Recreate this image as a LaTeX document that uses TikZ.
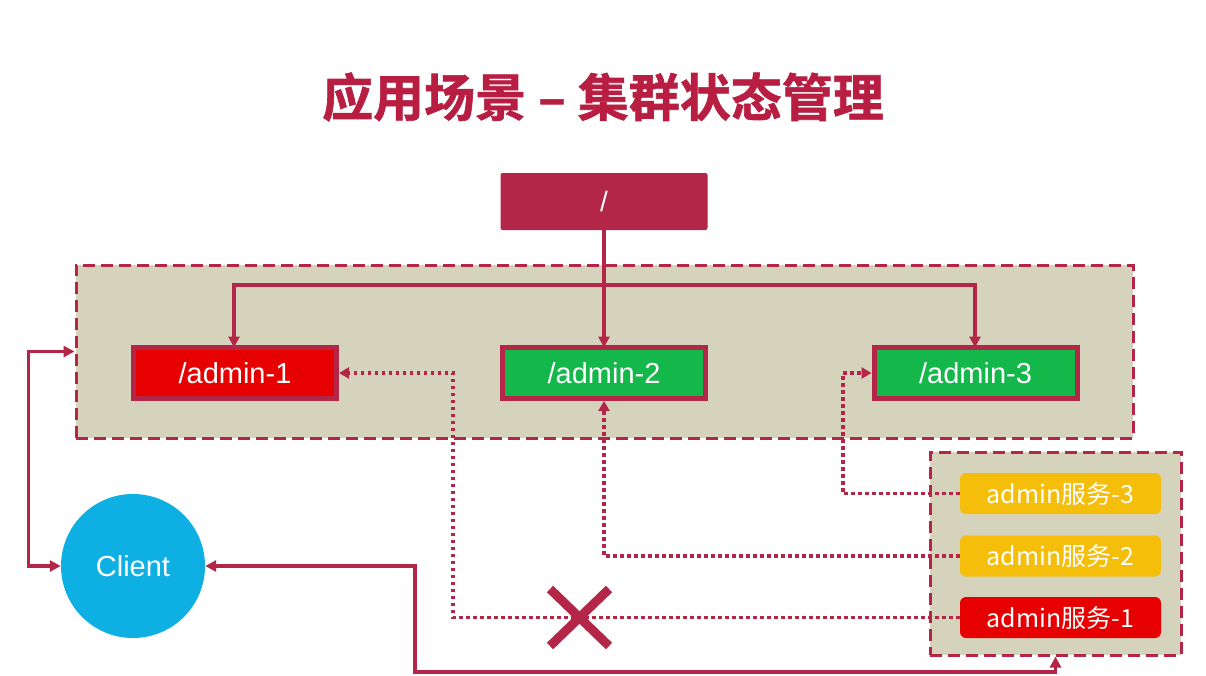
\documentclass[tikz,border=0pt]{standalone}
\usepackage{fontspec}
\setmainfont{Liberation Sans}
\newfontfamily\cjk{Noto Sans CJK SC}
\newfontfamily\cjkb{Noto Sans CJK SC Bold}[FakeBold=1.2]
\usetikzlibrary{arrows.meta}
\definecolor{crim}{RGB}{180,38,72}
\definecolor{titlec}{RGB}{183,30,66}
\definecolor{beige}{RGB}{213,211,187}
\definecolor{redf}{RGB}{230,0,0}
\definecolor{greenf}{RGB}{20,184,74}
\definecolor{yellowf}{RGB}{245,190,10}
\definecolor{bluef}{RGB}{14,176,227}
\begin{document}
\begin{tikzpicture}[x=1pt,y=-1pt,
  zbox/.style={draw=crim,line width=5pt,minimum width=203pt,minimum height=51pt,
    text=white,font=\fontsize{29}{31}\selectfont,inner sep=0pt},
  grp/.style={draw=crim,fill=beige,line width=3pt,dash pattern=on 12pt off 6pt,inner sep=0pt},
  svc/.style={rounded corners=6pt,minimum width=201pt,minimum height=41pt,inner sep=0pt,
    text=white,font=\cjk\fontsize{25}{27}\selectfont},
  tip/.style={-{Triangle[length=11pt,width=11pt]}},
  arr/.style={draw=crim,line width=3.2pt,-{Triangle[length=11pt,width=11pt]}},
  arrb/.style={draw=crim,line width=3.2pt,{Triangle[length=11pt,width=11pt]}-{Triangle[length=11pt,width=11pt]}},
  dotarr/.style={draw=crim,line width=3.5pt,dash pattern=on 3.5pt off 3.5pt,-{Triangle[length=10pt,width=11pt]}}
]
\useasboundingbox[fill=white] (0,0) rectangle (1206,675);

% title
\node[text=titlec,font=\cjkb\fontsize{51}{56}\selectfont,inner sep=0pt] (title) at (603,97) {应用场景\hspace{12pt}–\hspace{12pt}集群状态管理};

% root
\node[fill=crim,rounded corners=2pt,minimum width=207pt,minimum height=57pt,inner sep=0pt,
  text=white,font=\fontsize{28}{30}\selectfont] (root) at (604,201.5) {/};

% groups
\node[grp,minimum width=1057pt,minimum height=173pt] (big) at (604.5,351.5) {};
\node[grp,minimum width=251pt,minimum height=203pt] (srv) at (1055.5,553.5) {};

% tree connectors
\coordinate (jn) at (604,285);
\draw[arr] (root.south) -- ([yshift=-2.5pt]604,345);
\draw[arr] (jn) -| ([yshift=-2.5pt]234,345);
\draw[arr] (jn) -| ([yshift=-2.5pt]975,345);

% znodes
\node[zbox,fill=redf] (a1) at (235,373) {/admin-1};
\node[zbox,fill=greenf] (a2) at (604,373) {/admin-2};
\node[zbox,fill=greenf] (a3) at (975.5,373) {/admin-3};

% services
\node[svc,fill=yellowf] (s3) at (1060.5,493.5) {admin服务-3};
\node[svc,fill=yellowf] (s2) at (1060.5,556) {admin服务-2};
\node[svc,fill=redf] (s1) at (1060.5,617.5) {admin服务-1};

% client
\node[circle,fill=bluef,minimum size=144pt,inner sep=0pt,text=white,
  font=\fontsize{29}{31}\selectfont] (client) at (133,566) {Client};

% dotted watches
\draw[dotarr] (s3.west) -- ++(-117,0) |- (a3.west);
\draw[dotarr] (s2.west) -| (a2.south);
\draw[dotarr] (s1.west) -- (453,617.5) |- (a1.east);

% client connectors
\draw[arrb] (big.west) -- ++(-46,0) |- (client.west);
\draw[arrb] (srv.south) |- (415,672) |- (client.east);

% cross
\draw[crim,line width=9pt] (550,589) -- (609,646) (609,589) -- (550,646);
\end{tikzpicture}
\end{document}
